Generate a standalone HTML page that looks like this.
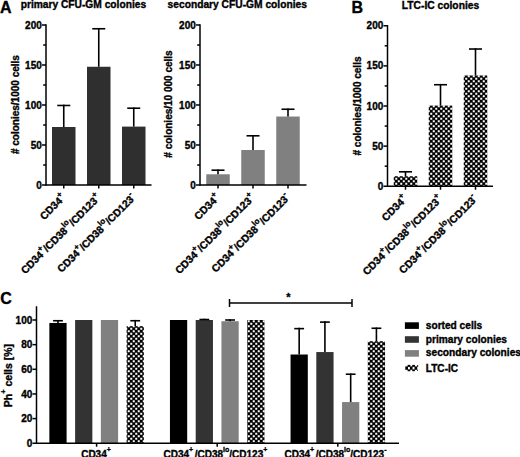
<!DOCTYPE html>
<html><head><meta charset="utf-8"><style>
html,body{margin:0;padding:0;background:#fff;}
svg{display:block;}
text{font-family:"Liberation Sans", sans-serif;font-weight:bold;fill:#000;stroke:#000;stroke-width:0.35px;}
</style></head><body>
<svg width="520" height="457" viewBox="0 0 520 457">
<defs>
<pattern id="chk" width="5" height="5" patternUnits="userSpaceOnUse">
<rect width="5" height="5" fill="#000"/>
<rect x="2.75" y="0.25" width="2.0" height="2.0" fill="#fff"/>
<rect x="0.25" y="2.75" width="2.0" height="2.0" fill="#fff"/>
</pattern>
</defs>
<rect width="520" height="457" fill="#fff"/>
<text x="0.1" y="12.7" font-size="16" text-anchor="start" stroke-width="1.0">A</text>
<text x="20.7" y="7.7" font-size="10" text-anchor="start" textLength="125.4" lengthAdjust="spacingAndGlyphs">primary CFU-GM colonies</text>
<text transform="translate(18.7,104.6) rotate(-90)" font-size="10" text-anchor="middle"># colonies/1000 cells</text>
<rect x="52" y="127" width="23.5" height="58" fill="#2f2f2f"/>
<line x1="63.75" y1="127" x2="63.75" y2="104.68" stroke="#000" stroke-width="1.6"/>
<line x1="57.25" y1="105.48" x2="70.25" y2="105.48" stroke="#000" stroke-width="1.6"/>
<rect x="87" y="66.76" width="23.5" height="118.24" fill="#2f2f2f"/>
<line x1="98.75" y1="66.76" x2="98.75" y2="27.96" stroke="#000" stroke-width="1.6"/>
<line x1="92.25" y1="28.76" x2="105.25" y2="28.76" stroke="#000" stroke-width="1.6"/>
<rect x="122" y="126.6" width="23.5" height="58.4" fill="#2f2f2f"/>
<line x1="133.75" y1="126.6" x2="133.75" y2="107.4" stroke="#000" stroke-width="1.6"/>
<line x1="127.25" y1="108.2" x2="140.25" y2="108.2" stroke="#000" stroke-width="1.6"/>
<line x1="46" y1="24.25" x2="46" y2="185.75" stroke="#000" stroke-width="1.5"/>
<line x1="42" y1="185" x2="46" y2="185" stroke="#000" stroke-width="1.5"/>
<text x="41.8" y="188.6" font-size="10" text-anchor="end">0</text>
<line x1="42" y1="145" x2="46" y2="145" stroke="#000" stroke-width="1.5"/>
<text x="41.8" y="148.6" font-size="10" text-anchor="end">50</text>
<line x1="42" y1="105" x2="46" y2="105" stroke="#000" stroke-width="1.5"/>
<text x="41.8" y="108.6" font-size="10" text-anchor="end">100</text>
<line x1="42" y1="65" x2="46" y2="65" stroke="#000" stroke-width="1.5"/>
<text x="41.8" y="68.6" font-size="10" text-anchor="end">150</text>
<line x1="42" y1="25" x2="46" y2="25" stroke="#000" stroke-width="1.5"/>
<text x="41.8" y="28.6" font-size="10" text-anchor="end">200</text>
<line x1="43.2" y1="165" x2="46" y2="165" stroke="#000" stroke-width="1.5"/>
<line x1="43.2" y1="125" x2="46" y2="125" stroke="#000" stroke-width="1.5"/>
<line x1="43.2" y1="85" x2="46" y2="85" stroke="#000" stroke-width="1.5"/>
<line x1="43.2" y1="45" x2="46" y2="45" stroke="#000" stroke-width="1.5"/>
<line x1="46" y1="185" x2="151.5" y2="185" stroke="#000" stroke-width="1.5"/>
<line x1="63.75" y1="185" x2="63.75" y2="188.5" stroke="#000" stroke-width="1.5"/>
<text transform="translate(66.35,198.3) rotate(-45)" font-size="10.4" text-anchor="end">CD34<tspan dy="-5.2" font-size="8">+</tspan></text>
<line x1="98.75" y1="185" x2="98.75" y2="188.5" stroke="#000" stroke-width="1.5"/>
<text transform="translate(101.35,198.3) rotate(-45)" font-size="10.4" text-anchor="end">CD34<tspan dy="-5.2" font-size="8">+</tspan><tspan dy="5.2">/CD38</tspan><tspan dy="-5.2" font-size="8">lo</tspan><tspan dy="5.2">/CD123</tspan><tspan dy="-5.2" font-size="8">+</tspan></text>
<line x1="133.75" y1="185" x2="133.75" y2="188.5" stroke="#000" stroke-width="1.5"/>
<text transform="translate(136.35,198.3) rotate(-45)" font-size="10.4" text-anchor="end">CD34<tspan dy="-5.2" font-size="8">+</tspan><tspan dy="5.2">/CD38</tspan><tspan dy="-5.2" font-size="8">lo</tspan><tspan dy="5.2">/CD123</tspan><tspan dy="-5.2" font-size="8">-</tspan></text>
<text x="167.6" y="7.7" font-size="10" text-anchor="start" textLength="139.3" lengthAdjust="spacingAndGlyphs">secondary CFU-GM colonies</text>
<text transform="translate(172,104) rotate(-90)" font-size="10" text-anchor="middle"># colonies/10 000 cells</text>
<rect x="206.25" y="174.28" width="23.5" height="10.72" fill="#808080"/>
<line x1="218" y1="174.28" x2="218" y2="169.4" stroke="#000" stroke-width="1.6"/>
<line x1="211.5" y1="170.2" x2="224.5" y2="170.2" stroke="#000" stroke-width="1.6"/>
<rect x="241.25" y="150" width="23.5" height="35" fill="#808080"/>
<line x1="253" y1="150" x2="253" y2="135" stroke="#000" stroke-width="1.6"/>
<line x1="246.5" y1="135.8" x2="259.5" y2="135.8" stroke="#000" stroke-width="1.6"/>
<rect x="276.25" y="116.52" width="23.5" height="68.48" fill="#808080"/>
<line x1="288" y1="116.52" x2="288" y2="108.44" stroke="#000" stroke-width="1.6"/>
<line x1="281.5" y1="109.24" x2="294.5" y2="109.24" stroke="#000" stroke-width="1.6"/>
<line x1="200" y1="24.25" x2="200" y2="185.75" stroke="#000" stroke-width="1.5"/>
<line x1="196" y1="185" x2="200" y2="185" stroke="#000" stroke-width="1.5"/>
<text x="195.8" y="188.6" font-size="10" text-anchor="end">0</text>
<line x1="196" y1="145" x2="200" y2="145" stroke="#000" stroke-width="1.5"/>
<text x="195.8" y="148.6" font-size="10" text-anchor="end">50</text>
<line x1="196" y1="105" x2="200" y2="105" stroke="#000" stroke-width="1.5"/>
<text x="195.8" y="108.6" font-size="10" text-anchor="end">100</text>
<line x1="196" y1="65" x2="200" y2="65" stroke="#000" stroke-width="1.5"/>
<text x="195.8" y="68.6" font-size="10" text-anchor="end">150</text>
<line x1="196" y1="25" x2="200" y2="25" stroke="#000" stroke-width="1.5"/>
<text x="195.8" y="28.6" font-size="10" text-anchor="end">200</text>
<line x1="197.2" y1="165" x2="200" y2="165" stroke="#000" stroke-width="1.5"/>
<line x1="197.2" y1="125" x2="200" y2="125" stroke="#000" stroke-width="1.5"/>
<line x1="197.2" y1="85" x2="200" y2="85" stroke="#000" stroke-width="1.5"/>
<line x1="197.2" y1="45" x2="200" y2="45" stroke="#000" stroke-width="1.5"/>
<line x1="200" y1="185" x2="306.5" y2="185" stroke="#000" stroke-width="1.5"/>
<line x1="218" y1="185" x2="218" y2="188.5" stroke="#000" stroke-width="1.5"/>
<text transform="translate(220.6,198.3) rotate(-45)" font-size="10.4" text-anchor="end">CD34<tspan dy="-5.2" font-size="8">+</tspan></text>
<line x1="253" y1="185" x2="253" y2="188.5" stroke="#000" stroke-width="1.5"/>
<text transform="translate(255.6,198.3) rotate(-45)" font-size="10.4" text-anchor="end">CD34<tspan dy="-5.2" font-size="8">+</tspan><tspan dy="5.2">/CD38</tspan><tspan dy="-5.2" font-size="8">lo</tspan><tspan dy="5.2">/CD123</tspan><tspan dy="-5.2" font-size="8">+</tspan></text>
<line x1="288" y1="185" x2="288" y2="188.5" stroke="#000" stroke-width="1.5"/>
<text transform="translate(290.6,198.3) rotate(-45)" font-size="10.4" text-anchor="end">CD34<tspan dy="-5.2" font-size="8">+</tspan><tspan dy="5.2">/CD38</tspan><tspan dy="-5.2" font-size="8">lo</tspan><tspan dy="5.2">/CD123</tspan><tspan dy="-5.2" font-size="8">-</tspan></text>
<text x="351.6" y="12.8" font-size="16" text-anchor="start" stroke-width="1.0">B</text>
<text x="401.8" y="8.8" font-size="10" text-anchor="start" textLength="77.4" lengthAdjust="spacingAndGlyphs">LTC-IC colonies</text>
<text transform="translate(361.3,106) rotate(-90)" font-size="10" text-anchor="middle"># colonies/1000 cells</text>
<rect x="393.75" y="176.22" width="23.5" height="10.03" fill="url(#chk)"/>
<line x1="405.5" y1="176.22" x2="405.5" y2="171" stroke="#000" stroke-width="1.6"/>
<line x1="399" y1="171.81" x2="412" y2="171.81" stroke="#000" stroke-width="1.6"/>
<rect x="428.75" y="105.6" width="23.5" height="80.65" fill="url(#chk)"/>
<line x1="440.5" y1="105.6" x2="440.5" y2="83.93" stroke="#000" stroke-width="1.6"/>
<line x1="434" y1="84.73" x2="447" y2="84.73" stroke="#000" stroke-width="1.6"/>
<rect x="463.75" y="75.5" width="23.5" height="110.75" fill="url(#chk)"/>
<line x1="475.5" y1="75.5" x2="475.5" y2="48.22" stroke="#000" stroke-width="1.6"/>
<line x1="469" y1="49.02" x2="482" y2="49.02" stroke="#000" stroke-width="1.6"/>
<line x1="387.5" y1="25" x2="387.5" y2="187" stroke="#000" stroke-width="1.5"/>
<line x1="383.5" y1="186.25" x2="387.5" y2="186.25" stroke="#000" stroke-width="1.5"/>
<text x="383.3" y="189.85" font-size="10" text-anchor="end">0</text>
<line x1="383.5" y1="146.12" x2="387.5" y2="146.12" stroke="#000" stroke-width="1.5"/>
<text x="383.3" y="149.72" font-size="10" text-anchor="end">50</text>
<line x1="383.5" y1="106" x2="387.5" y2="106" stroke="#000" stroke-width="1.5"/>
<text x="383.3" y="109.6" font-size="10" text-anchor="end">100</text>
<line x1="383.5" y1="65.88" x2="387.5" y2="65.88" stroke="#000" stroke-width="1.5"/>
<text x="383.3" y="69.47" font-size="10" text-anchor="end">150</text>
<line x1="383.5" y1="25.75" x2="387.5" y2="25.75" stroke="#000" stroke-width="1.5"/>
<text x="383.3" y="29.35" font-size="10" text-anchor="end">200</text>
<line x1="384.7" y1="166.19" x2="387.5" y2="166.19" stroke="#000" stroke-width="1.5"/>
<line x1="384.7" y1="126.06" x2="387.5" y2="126.06" stroke="#000" stroke-width="1.5"/>
<line x1="384.7" y1="85.94" x2="387.5" y2="85.94" stroke="#000" stroke-width="1.5"/>
<line x1="384.7" y1="45.81" x2="387.5" y2="45.81" stroke="#000" stroke-width="1.5"/>
<line x1="387.5" y1="186.25" x2="493" y2="186.25" stroke="#000" stroke-width="1.5"/>
<line x1="405.5" y1="186.25" x2="405.5" y2="189.75" stroke="#000" stroke-width="1.5"/>
<text transform="translate(408.1,199.55) rotate(-45)" font-size="10.4" text-anchor="end">CD34<tspan dy="-5.2" font-size="8">+</tspan></text>
<line x1="440.5" y1="186.25" x2="440.5" y2="189.75" stroke="#000" stroke-width="1.5"/>
<text transform="translate(443.1,199.55) rotate(-45)" font-size="10.4" text-anchor="end">CD34<tspan dy="-5.2" font-size="8">+</tspan><tspan dy="5.2">/CD38</tspan><tspan dy="-5.2" font-size="8">lo</tspan><tspan dy="5.2">/CD123</tspan><tspan dy="-5.2" font-size="8">+</tspan></text>
<line x1="475.5" y1="186.25" x2="475.5" y2="189.75" stroke="#000" stroke-width="1.5"/>
<text transform="translate(478.1,199.55) rotate(-45)" font-size="10.4" text-anchor="end">CD34<tspan dy="-5.2" font-size="8">+</tspan><tspan dy="5.2">/CD38</tspan><tspan dy="-5.2" font-size="8">lo</tspan><tspan dy="5.2">/CD123</tspan><tspan dy="-5.2" font-size="8">-</tspan></text>
<text x="0.3" y="304.2" font-size="16" text-anchor="start" stroke-width="1.0">C</text>
<text transform="translate(11.6,375.6) rotate(-90)" font-size="10.5" text-anchor="middle">Ph<tspan dy="-6" font-size="7.5">+</tspan><tspan dy="6"> cells [%]</tspan></text>
<rect x="49.35" y="322.96" width="17.25" height="120.29" fill="#000"/>
<line x1="57.97" y1="322.96" x2="57.97" y2="319.94" stroke="#000" stroke-width="1.6"/>
<line x1="53.07" y1="320.74" x2="62.87" y2="320.74" stroke="#000" stroke-width="1.6"/>
<rect x="75.1" y="320" width="17.25" height="123.25" fill="#333"/>
<rect x="100.85" y="320" width="17.25" height="123.25" fill="#808080"/>
<rect x="126.6" y="326.16" width="17.25" height="117.09" fill="url(#chk)"/>
<line x1="135.22" y1="326.16" x2="135.22" y2="319.94" stroke="#000" stroke-width="1.6"/>
<line x1="130.32" y1="320.74" x2="140.12" y2="320.74" stroke="#000" stroke-width="1.6"/>
<rect x="169.95" y="320" width="17.25" height="123.25" fill="#000"/>
<rect x="195.7" y="320" width="17.25" height="123.25" fill="#333"/>
<line x1="204.32" y1="320" x2="204.32" y2="318.71" stroke="#000" stroke-width="1.6"/>
<line x1="199.42" y1="319.51" x2="209.22" y2="319.51" stroke="#000" stroke-width="1.6"/>
<rect x="221.45" y="321.23" width="17.25" height="122.02" fill="#808080"/>
<line x1="230.07" y1="321.23" x2="230.07" y2="319.2" stroke="#000" stroke-width="1.6"/>
<line x1="225.17" y1="320" x2="234.97" y2="320" stroke="#000" stroke-width="1.6"/>
<rect x="247.2" y="320" width="17.25" height="123.25" fill="url(#chk)"/>
<rect x="290.55" y="354.51" width="17.25" height="88.74" fill="#000"/>
<line x1="299.17" y1="354.51" x2="299.17" y2="327.83" stroke="#000" stroke-width="1.6"/>
<line x1="294.27" y1="328.63" x2="304.07" y2="328.63" stroke="#000" stroke-width="1.6"/>
<rect x="316.3" y="352.05" width="17.25" height="91.2" fill="#333"/>
<line x1="324.92" y1="352.05" x2="324.92" y2="321.3" stroke="#000" stroke-width="1.6"/>
<line x1="320.02" y1="322.1" x2="329.82" y2="322.1" stroke="#000" stroke-width="1.6"/>
<rect x="342.05" y="402.08" width="17.25" height="41.17" fill="#808080"/>
<line x1="350.67" y1="402.08" x2="350.67" y2="373.43" stroke="#000" stroke-width="1.6"/>
<line x1="345.77" y1="374.23" x2="355.57" y2="374.23" stroke="#000" stroke-width="1.6"/>
<rect x="367.8" y="341.2" width="17.25" height="102.05" fill="url(#chk)"/>
<line x1="376.42" y1="341.2" x2="376.42" y2="327.46" stroke="#000" stroke-width="1.6"/>
<line x1="371.52" y1="328.26" x2="381.32" y2="328.26" stroke="#000" stroke-width="1.6"/>
<line x1="36.5" y1="306.25" x2="36.5" y2="444" stroke="#000" stroke-width="1.5"/>
<line x1="32.5" y1="443.25" x2="36.5" y2="443.25" stroke="#000" stroke-width="1.5"/>
<text x="32.3" y="446.85" font-size="10" text-anchor="end">0</text>
<line x1="32.5" y1="418.6" x2="36.5" y2="418.6" stroke="#000" stroke-width="1.5"/>
<text x="32.3" y="422.2" font-size="10" text-anchor="end">20</text>
<line x1="32.5" y1="393.95" x2="36.5" y2="393.95" stroke="#000" stroke-width="1.5"/>
<text x="32.3" y="397.55" font-size="10" text-anchor="end">40</text>
<line x1="32.5" y1="369.3" x2="36.5" y2="369.3" stroke="#000" stroke-width="1.5"/>
<text x="32.3" y="372.9" font-size="10" text-anchor="end">60</text>
<line x1="32.5" y1="344.65" x2="36.5" y2="344.65" stroke="#000" stroke-width="1.5"/>
<text x="32.3" y="348.25" font-size="10" text-anchor="end">80</text>
<line x1="32.5" y1="320" x2="36.5" y2="320" stroke="#000" stroke-width="1.5"/>
<text x="32.3" y="323.6" font-size="10" text-anchor="end">100</text>
<line x1="36.5" y1="443.25" x2="399" y2="443.25" stroke="#000" stroke-width="1.5"/>
<line x1="96.6" y1="443.25" x2="96.6" y2="446.75" stroke="#000" stroke-width="1.5"/>
<text x="96" y="457.5" font-size="10" text-anchor="middle">CD34<tspan dy="-5.5" font-size="7">+</tspan></text>
<line x1="217.2" y1="443.25" x2="217.2" y2="446.75" stroke="#000" stroke-width="1.5"/>
<text x="215.4" y="457.5" font-size="10" text-anchor="middle">CD34<tspan dy="-5.5" font-size="7">+</tspan><tspan dy="5.5" dx="1.5">/CD38</tspan><tspan dy="-5.5" font-size="7">lo</tspan><tspan dy="5.5">/CD123</tspan><tspan dy="-5.5" font-size="7">+</tspan></text>
<line x1="337.8" y1="443.25" x2="337.8" y2="446.75" stroke="#000" stroke-width="1.5"/>
<text x="335.5" y="457.5" font-size="10" text-anchor="middle">CD34<tspan dy="-5.5" font-size="7">+</tspan><tspan dy="5.5" dx="1.5">/CD38</tspan><tspan dy="-5.5" font-size="7">lo</tspan><tspan dy="5.5">/CD123</tspan><tspan dy="-5.5" font-size="7">-</tspan></text>
<line x1="229.5" y1="303" x2="352" y2="303" stroke="#000" stroke-width="1.5"/>
<line x1="229.5" y1="299" x2="229.5" y2="307" stroke="#000" stroke-width="1.5"/>
<line x1="352" y1="299" x2="352" y2="307" stroke="#000" stroke-width="1.5"/>
<text x="288.3" y="301.3" font-size="11" text-anchor="middle">*</text>
<rect x="404.9" y="322.3" width="14" height="6.6" fill="#000"/>
<text x="425.8" y="328.6" font-size="10" text-anchor="start" textLength="56.4" lengthAdjust="spacingAndGlyphs">sorted cells</text>
<rect x="404.9" y="336.2" width="14" height="6.6" fill="#333"/>
<text x="425.8" y="342.5" font-size="10" text-anchor="start" textLength="81.2" lengthAdjust="spacingAndGlyphs">primary colonies</text>
<rect x="404.9" y="350.1" width="14" height="6.6" fill="#808080"/>
<text x="425.8" y="356.4" font-size="10" text-anchor="start" textLength="95.2" lengthAdjust="spacingAndGlyphs">secondary colonies</text>
<rect x="405.3" y="366.4" width="2.7" height="3.4" fill="#000"/>
<rect x="409.9" y="366.4" width="2.7" height="3.4" fill="#000"/>
<rect x="414.5" y="366.4" width="2.7" height="3.4" fill="#000"/>
<rect x="407.6" y="364.9" width="2.7" height="2" fill="#000"/>
<rect x="407.6" y="369.4" width="2.7" height="1.8" fill="#000"/>
<rect x="412.2" y="364.9" width="2.7" height="2" fill="#000"/>
<rect x="412.2" y="369.4" width="2.7" height="1.8" fill="#000"/>
<rect x="417" y="365.2" width="1.2" height="1.5" fill="#000"/>
<rect x="417" y="369.6" width="0.8" height="1.2" fill="#000"/>
<text x="425.8" y="371.7" font-size="10" text-anchor="start" textLength="32.3" lengthAdjust="spacingAndGlyphs">LTC-IC</text>
</svg>
</body></html>
